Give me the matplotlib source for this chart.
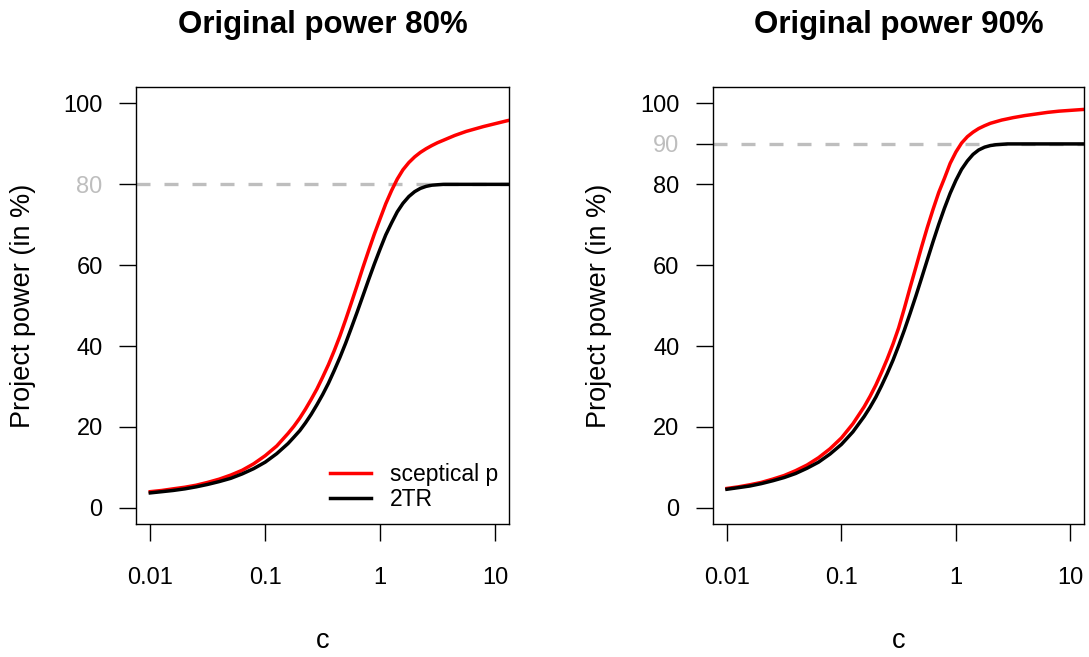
import matplotlib
matplotlib.use("Agg")
import matplotlib.pyplot as plt

plt.rcParams['font.family'] = ['Liberation Sans', 'DejaVu Sans']

# relative sample size c (log spaced, denser around the knee)
c_vals = [0.01, 0.0126, 0.0158, 0.02, 0.0251, 0.0316, 0.0398, 0.0501, 0.0631, 0.0794,
          0.1, 0.126, 0.158,
          0.178, 0.2, 0.224, 0.251, 0.282, 0.316, 0.355, 0.398, 0.447, 0.501,
          0.562, 0.631, 0.708, 0.794, 0.891, 1, 1.12, 1.26, 1.41, 1.58,
          1.78, 2, 2.24, 2.51, 2.82, 3.16, 3.55, 3.98, 4.47, 5.01,
          5.62, 6.31,
          7.94, 10, 12.6, 15.8]

# original power 80%
sceptical_80 = [4.0, 4.3, 4.7, 5.1, 5.6, 6.3, 7.1, 8.1, 9.3, 10.9,
                12.9, 15.3, 18.4,
                20.2, 22.2, 24.4, 26.8, 29.4, 32.3, 35.4, 38.8, 42.5, 46.5,
                50.7, 55.0, 59.4, 63.6, 67.7, 71.5, 75.2, 78.5, 81.3, 83.6,
                85.4, 86.8, 87.9, 88.8, 89.6, 90.3, 90.9, 91.5, 92.1, 92.6,
                93.1, 93.5,
                94.3, 95.0, 95.7, 96.3]
twotr_80 = [3.7, 4.0, 4.3, 4.7, 5.2, 5.8, 6.5, 7.3, 8.4, 9.7,
            11.3, 13.4, 15.9,
            17.5, 19.1, 21.0, 23.1, 25.5, 28.0, 30.8, 33.9, 37.2, 40.7,
            44.5, 48.4, 52.4, 56.4, 60.3, 64.0, 67.5, 70.5, 73.2, 75.3,
            77.0, 78.2, 79.0, 79.5, 79.8, 79.9, 80.0, 80.0, 80.0, 80.0,
            80.0, 80.0,
            80.0, 80.0, 80.0, 80.0]

# original power 90%
sceptical_90 = [4.8, 5.2, 5.7, 6.3, 7.1, 8.0, 9.2, 10.6, 12.4, 14.6,
                17.3, 20.8, 25.0,
                27.6, 30.4, 33.5, 36.8, 40.5, 44.5, 49.4, 54.5, 59.5, 64.5,
                69.3, 73.8, 78.0, 81.5, 85.2, 88.0, 90.2, 91.8, 92.9, 93.8,
                94.5, 95.1, 95.5, 95.9, 96.2, 96.5, 96.75, 97.0, 97.2, 97.4,
                97.6, 97.8,
                98.1, 98.3, 98.5, 98.7]
twotr_90 = [4.6, 5.0, 5.4, 6.0, 6.7, 7.5, 8.5, 9.8, 11.3, 13.3,
            15.7, 18.8, 22.6,
            24.9, 27.4, 30.2, 33.2, 36.5, 40.1, 44.0, 48.1, 52.4, 56.8,
            61.3, 65.8, 70.1, 74.1, 77.8, 81.0, 83.7, 85.8, 87.4, 88.5,
            89.2, 89.6, 89.8, 89.9, 90.0, 90.0, 90.0, 90.0, 90.0, 90.0,
            90.0, 90.0,
            90.0, 90.0, 90.0, 90.0]

titles = ['Original power 80%', 'Original power 90%']
orig_power = [80, 90]
x_ticks = [0.01, 0.1, 1, 10]
x_ticklabels = ['0.01', '0.1', '1', '10']

GRAY = '#BEBEBE'
FS = 17
FS_LEG = 16.5
FS_LAB = 19.5

fig = plt.figure(figsize=(10.89, 6.57), dpi=100)
positions = [[0.1249, 0.2024, 0.3425, 0.6647],
             [0.6545, 0.2024, 0.3412, 0.6647]]
series = [(sceptical_80, twotr_80), (sceptical_90, twotr_90)]

for i in range(2):
    ax = fig.add_axes(positions[i])
    scep, twotr = series[i]
    pw = orig_power[i]

    ax.axhline(pw, color=GRAY, lw=2.4, linestyle=(0, (4.2, 4.2)), zorder=1)
    ax.plot(c_vals, scep, color='red', lw=2.5, label='sceptical p', zorder=2)
    ax.plot(c_vals, twotr, color='black', lw=2.5, label='2TR', zorder=3)

    ax.set_xscale('log')
    ax.set_xlim(0.00751, 13.24)
    ax.set_ylim(-4, 104)
    ax.set_xticks(x_ticks)
    ax.set_xticklabels(x_ticklabels)
    ax.minorticks_off()

    yt = [0, 20, 40, 60, 80, 100]
    if pw not in yt:
        yt = sorted(yt + [pw])
    ax.set_yticks(yt)
    ax.set_yticklabels([str(v) for v in yt])

    ax.tick_params(axis='both', direction='out', length=12, width=1.0,
                   labelsize=FS, colors='black')
    ax.tick_params(axis='x', pad=19)
    ax.tick_params(axis='y', pad=12)
    for tick, v in zip(ax.yaxis.get_major_ticks(), yt):
        if v == pw:
            tick.label1.set_color(GRAY)
            tick.tick1line.set_color(GRAY)

    for sp in ax.spines.values():
        sp.set_linewidth(1.0)

    ax.set_title(titles[i], fontsize=22.5, fontweight='bold', pad=39)
    ax.set_xlabel('c', fontsize=FS_LAB, labelpad=28)
    ax.set_ylabel('Project power (in %)', fontsize=FS_LAB, labelpad=20)

    if i == 0:
        ax.legend(loc='lower right', bbox_to_anchor=(0.97, 0.03), frameon=False,
                  fontsize=FS_LEG, handlelength=1.8, handletextpad=0.8,
                  labelspacing=0.1, borderpad=0, borderaxespad=0)

fig.savefig('out.png', dpi=100)
